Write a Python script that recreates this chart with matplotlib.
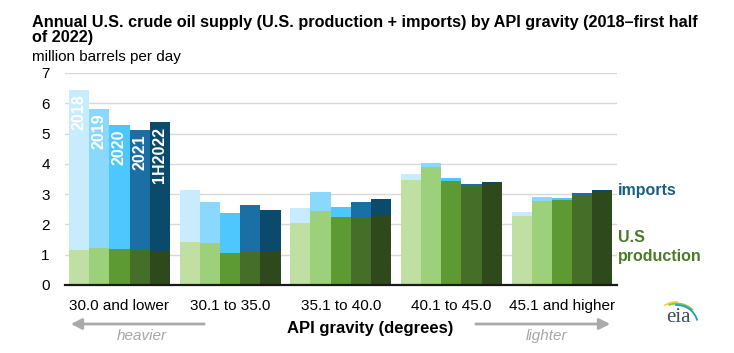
import matplotlib.pyplot as plt
import numpy as np
from matplotlib.patches import Arc

plt.rcParams['font.family'] = ['Liberation Sans', 'DejaVu Sans']

categories = ["30.0 and lower", "30.1 to 35.0", "35.1 to 40.0", "40.1 to 45.0", "45.1 and higher"]
years = ["2018", "2019", "2020", "2021", "1H2022"]

# U.S. production, million b/d
prod_2018 = [1.16, 1.41, 2.05, 3.45, 2.29]
prod_2019 = [1.22, 1.39, 2.44, 3.89, 2.78]
prod_2020 = [1.20, 1.07, 2.24, 3.43, 2.81]
prod_2021 = [1.16, 1.13, 2.22, 3.28, 2.94]
prod_1h2022 = [1.11, 1.11, 2.30, 3.37, 3.11]

# imports, million b/d
imp_2018 = [5.28, 1.72, 0.49, 0.20, 0.11]
imp_2019 = [4.58, 1.36, 0.63, 0.14, 0.12]
imp_2020 = [4.08, 1.32, 0.34, 0.09, 0.07]
imp_2021 = [3.95, 1.50, 0.52, 0.05, 0.10]
imp_1h2022 = [4.26, 1.37, 0.53, 0.03, 0.02]

production = [prod_2018, prod_2019, prod_2020, prod_2021, prod_1h2022]
imports = [imp_2018, imp_2019, imp_2020, imp_2021, imp_1h2022]

prod_colors = ["#bfdfa3", "#9dd07a", "#5d9a34", "#456e28", "#2e4a1c"]
imp_colors = ["#c6ecfd", "#8ad9fc", "#4dc7fd", "#1a70a4", "#0c4a6c"]

fig = plt.figure(figsize=(7.34, 3.53), dpi=100)
ax = fig.add_axes([65 / 734, 1 - 285 / 353, (617 - 65) / 734, (285 - 72.9) / 353])

x = np.arange(len(categories))
w = 0.1824
for i, yr in enumerate(years):
    pos = x + (i - 2) * w
    ax.bar(pos, production[i], w, color=prod_colors[i], zorder=2)
    ax.bar(pos, imports[i], w, bottom=production[i], color=imp_colors[i], zorder=2)
    top = production[i][0] + imports[i][0]
    ax.text(pos[0], top - 0.15, yr, rotation=90, ha="center", va="top",
            color="white", fontsize=11.5, fontweight="bold", zorder=3)

ax.set_xlim(-0.492, 4.497)
ax.set_ylim(0, 7)
ax.set_yticks(range(0, 8))
ax.set_xticks(x)
ax.set_xticklabels(categories)
ax.tick_params(axis="both", length=0, labelsize=11)
ax.tick_params(axis="y", pad=11)
ax.tick_params(axis="x", pad=10)
ax.yaxis.grid(True, color="#d9d9d9", linewidth=1, zorder=0)
ax.set_axisbelow(True)
for s in ["top", "right", "left"]:
    ax.spines[s].set_visible(False)
ax.spines["bottom"].set_linewidth(1.6)
ax.spines["bottom"].set_color("#1a1a1a")

# titles
fig.text(32 / 734, 1 - 26.7 / 353,
         "Annual U.S. crude oil supply (U.S. production + imports) by API gravity (2018\u2013first half",
         fontsize=11.7, fontweight="bold", va="baseline")
fig.text(32 / 734, 1 - 41.7 / 353, "of 2022)", fontsize=11.7, fontweight="bold", va="baseline")
fig.text(32 / 734, 1 - 60.5 / 353, "million barrels per day", fontsize=11, va="baseline")

# series labels on the right
fig.text(618 / 734, 1 - 191 / 353, "imports", fontsize=11.5, fontweight="bold",
         color="#1a5e86", va="center")
fig.text(618 / 734, 1 - 237 / 353, "U.S", fontsize=11.5, fontweight="bold",
         color="#4a7a2a", va="center")
fig.text(618 / 734, 1 - 256 / 353, "production", fontsize=11.5, fontweight="bold",
         color="#4a7a2a", va="center")

# axis title and arrows
fig.text(370 / 734, 1 - 329 / 353, "API gravity (degrees)", fontsize=12,
         fontweight="bold", ha="center", va="center")
arrow = dict(arrowstyle="-|>", color="#aaaaaa", lw=2, mutation_scale=16)
ax.annotate("", xy=(68, 353 - 324), xytext=(207, 353 - 324),
            xycoords="figure pixels", textcoords="figure pixels", arrowprops=arrow)
ax.annotate("", xy=(613, 353 - 324), xytext=(473, 353 - 324),
            xycoords="figure pixels", textcoords="figure pixels", arrowprops=arrow)
fig.text(142 / 734, 1 - 336 / 353, "heavier", fontsize=11, style="italic",
         color="#a6a6a6", ha="center", va="center")
fig.text(547 / 734, 1 - 336 / 353, "lighter", fontsize=11, style="italic",
         color="#a6a6a6", ha="center", va="center")

# eia logo
lg = fig.add_axes([655 / 734, 1 - 330 / 353, 50 / 734, 40 / 353])
lg.set_xlim(0, 50)
lg.set_ylim(0, 40)
lg.set_aspect("equal")
lg.axis("off")
lg.text(23.5, 12, "eia", family="Liberation Serif", fontsize=15, color="#3b4e63",
        ha="center", va="center")
for r, t1, t2, c in [(24, 88, 122, "#f2d33b"), (22.5, 45, 112, "#8cc63f"), (21, 15, 95, "#1b9ad6")]:
    lg.add_patch(Arc((22, 4), 2 * r, 2 * r, theta1=t1, theta2=t2, color=c, lw=1.3))

fig.savefig("out.png", dpi=100)
